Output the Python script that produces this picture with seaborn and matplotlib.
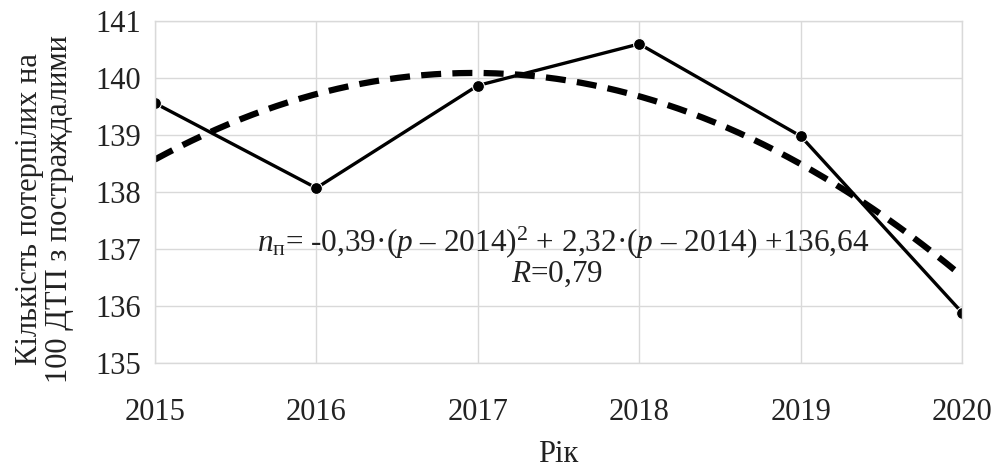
import numpy as np
import pandas as pd
import seaborn as sns
from matplotlib import pyplot as plt

years = [2015, 2016, 2017, 2018, 2019, 2020]
victims = [139.56, 138.07, 139.87, 140.60, 138.98, 135.88]

# trend coefficients as printed on the chart: a*(p-2014)^2 + b*(p-2014) + c
trend_coefs = [-0.39, 2.32, 136.64]
base_year = 2014


def main():
    sns.set_theme(style='whitegrid')
    plt.rcParams['font.family'] = ['Liberation Serif', 'DejaVu Serif']
    plt.rcParams['mathtext.fontset'] = 'custom'
    plt.rcParams['mathtext.rm'] = 'Liberation Serif'
    plt.rcParams['mathtext.it'] = 'Liberation Serif:italic'

    df = pd.DataFrame({'year': years, 'value': victims})
    p = np.linspace(years[0], years[-1], 200)
    trend = np.polyval(trend_coefs, p - base_year)
    df_trend = pd.DataFrame({'year': p, 'value': trend})

    fig, ax = plt.subplots(figsize=(9.93, 4.70), dpi=100)
    fig.subplots_adjust(left=0.156, right=0.969, top=0.955, bottom=0.228)

    sns.lineplot(data=df_trend, x='year', y='value', ax=ax, color='black',
                 linewidth=4.5, linestyle=(0, (3.2, 1.8)))
    sns.lineplot(data=df, x='year', y='value', ax=ax, color='black',
                 linewidth=2.4, marker='o', markersize=8.5)

    ax.set_xlim(years[0], years[-1])
    ax.set_ylim(135, 141)
    ax.set_xticks(years)
    ax.set_yticks(range(135, 142))
    ax.tick_params(axis='both', labelsize=22, colors='#222222', length=0)
    ax.tick_params(axis='x', pad=25)
    ax.tick_params(axis='y', pad=10)
    ax.grid(True, color='#d9d9d9', linewidth=1)
    for s in ax.spines.values():
        s.set_color('#d9d9d9')
        s.set_linewidth(1)

    ax.set_xlabel('Рік', fontsize=22, color='#222222', labelpad=10)
    ax.set_ylabel('Кількість потерпілих на\n100 ДТП з постраждалими',
                  fontsize=22, color='#222222', linespacing=1.05)
    ax.yaxis.set_label_coords(-0.137, 0.45)
    ax.yaxis.label.set_va('center')

    eq = (r'$n_{\mathrm{п}}$= -0,39·($p$ – 2014)$^2$ + 2,32·($p$ – 2014) +136,64')
    ax.text(2017.53, 137.1, eq, fontsize=22.5, ha='center', va='center', color='#222222')
    ax.text(2017.49, 136.55, r'$R$=0,79', fontsize=22.5, ha='center', va='center', color='#222222')

    fig.savefig('out.png', dpi=100)


if __name__ == '__main__':
    main()
